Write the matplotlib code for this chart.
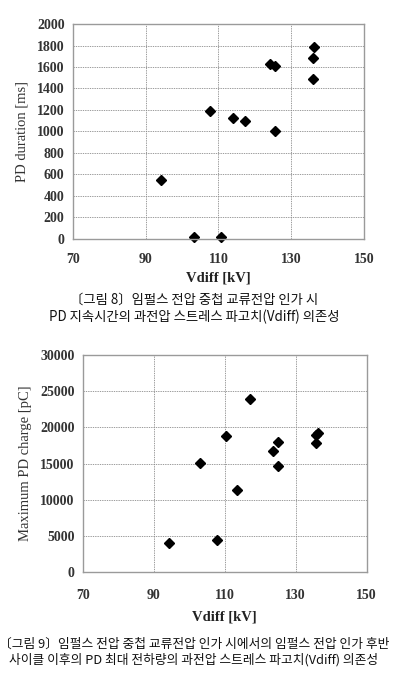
import matplotlib
matplotlib.use('Agg')
import matplotlib.pyplot as plt

# ── data ──
vdiff_dur = [94.2, 103.2, 110.7, 107.8, 113.9, 117.4, 124.1, 125.5, 125.6, 136.3, 136.0, 136.0]
pd_duration = [550, 20, 15, 1190, 1130, 1095, 1625, 1605, 1007, 1790, 1687, 1485]

vdiff_chg = [94.4, 103.1, 107.9, 110.4, 113.5, 117.2, 123.6, 125.0, 125.0, 135.8, 135.6, 136.2]
max_charge = [4100, 15100, 4500, 18800, 11300, 23900, 16700, 18000, 14700, 17900, 18900, 19200]

x_ticks = [70, 90, 110, 130, 150]
dur_ticks = list(range(0, 2001, 200))
chg_ticks = list(range(0, 30001, 5000))

caption1 = '〔그림 8〕임펄스 전압 중첩 교류전압 인가 시\nPD 지속시간의 과전압 스트레스 파고치(Vdiff) 의존성'
caption2 = ('〔그림 9〕임펄스 전압 중첩 교류전압 인가 시에서의 임펄스 전압 인가 후반\n'
            '사이클 이후의 PD 최대 전하량의 과전압 스트레스 파고치(Vdiff) 의존성')

serif = 'Liberation Serif'
kr = ['Noto Sans CJK KR', 'DejaVu Sans']

fig = plt.figure(figsize=(3.96, 6.82), dpi=100)


def style(ax, yticks, ylabel, ylim, xpad, lpad):
    ax.set_xlim(70, 150)
    ax.set_ylim(*ylim)
    ax.set_xticks(x_ticks)
    ax.set_yticks(yticks)
    ax.tick_params(length=0, pad=6)
    for lab in ax.get_xticklabels() + ax.get_yticklabels():
        lab.set_fontfamily(serif)
        lab.set_fontsize(10)
        lab.set_fontweight('bold')
        lab.set_color('#333333')
    ax.tick_params(axis='x', pad=xpad)
    ax.grid(True, linestyle=(0, (1.6, 1.2)), color='#8a8a8a', linewidth=0.6)
    ax.set_axisbelow(True)
    for s in ax.spines.values():
        s.set_color('#9a9a9a')
        s.set_linewidth(1.0)
    ax.set_xlabel('Vdiff [kV]', fontfamily=serif, fontsize=10.5, fontweight='bold',
                  color='#222222', labelpad=lpad)
    ax.set_ylabel(ylabel, fontfamily=serif, fontsize=10.5, color='#333333', labelpad=6)


# top chart
ax1 = fig.add_axes([0.184, 0.6496, 0.735, 0.3152])
ax1.plot(vdiff_dur, pd_duration, linestyle='none', marker='D', markersize=5.6,
         color='black', clip_on=False)
style(ax1, dur_ticks, 'PD duration [ms]', (0, 2000), 10, 4)

# bottom chart
ax2 = fig.add_axes([0.2096, 0.1608, 0.716, 0.3187])
ax2.plot(vdiff_chg, max_charge, linestyle='none', marker='D', markersize=5.6,
         color='black', clip_on=False)
style(ax2, chg_ticks, 'Maximum PD charge [pC]', (0, 30000), 12, 6)

fig.text(0.49, 1 - 308 / 682, caption1, ha='center', va='center', family=kr,
         fontsize=9.6, linespacing=1.25, color='#111111')
fig.text(0.49, 1 - 652 / 682, caption2, ha='center', va='center', family=kr,
         fontsize=9.2, linespacing=1.25, color='#111111')

fig.savefig('out.png', dpi=100)
